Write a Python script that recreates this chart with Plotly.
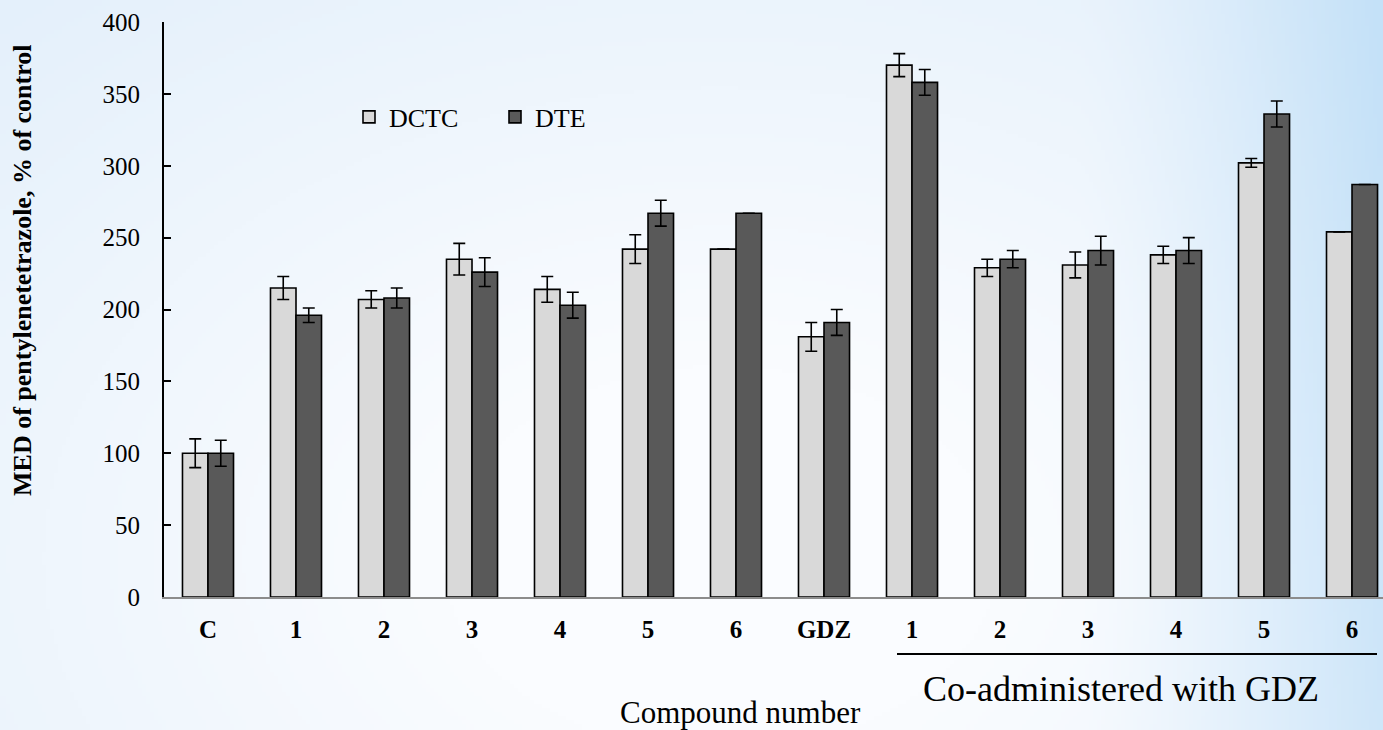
import base64
import struct
import zlib

import numpy as np
import plotly.graph_objects as go

# ---- data -------------------------------------------------------------
categories = ["C", "1", "2", "3", "4", "5", "6", "GDZ", "1", "2", "3", "4", "5", "6"]
dctc = [100, 215, 207, 235, 214, 242, 242, 181, 370, 229, 231, 238, 302, 254]
dctc_err = [10, 8, 6, 11, 9, 10, 0, 10, 8, 6, 9, 6, 3, 0]
dte = [100, 196, 208, 226, 203, 267, 267, 191, 358, 235, 241, 241, 336, 287]
dte_err = [9, 5, 7, 10, 9, 9, 0, 9, 9, 6, 10, 9, 9, 0]
y_ticks = [0, 50, 100, 150, 200, 250, 300, 350, 400]

# ---- figure geometry (pixels) -------------------------------------------
W, H = 1383, 730
ML, MR, MT, MB = 164, 0, 22, 133
PW, PH = W - ML - MR, H - MT - MB


def px(x):
    """Horizontal pixel -> paper coordinate."""
    return (x - ML) / PW


def py(y):
    """Vertical pixel (from top) -> paper coordinate."""
    return (H - MB - y) / PH


# ---- soft blue background ----------------------------------------------
def png_data_uri(rgb):
    h, w, _ = rgb.shape
    raw = b"".join(b"\x00" + rgb[i].tobytes() for i in range(h))

    def chunk(tag, data):
        return (struct.pack(">I", len(data)) + tag + data
                + struct.pack(">I", zlib.crc32(tag + data) & 0xFFFFFFFF))

    png = (b"\x89PNG\r\n\x1a\n"
           + chunk(b"IHDR", struct.pack(">IIBBBBB", w, h, 8, 2, 0, 0, 0))
           + chunk(b"IDAT", zlib.compress(raw, 9))
           + chunk(b"IEND", b""))
    return "data:image/png;base64," + base64.b64encode(png).decode()


gw, gh = 346, 183
gx = np.linspace(0, W, gw)[None, :]
gy = np.linspace(0, H, gh)[:, None]
d = np.sqrt(((gx - 720) / 800) ** 2 + ((gy - 560) / 560) ** 2)
t1 = np.clip((d - 0.35) / 1.0, 0, 1)
t2 = np.clip((gx - 1080) / 303, 0, 1) ** 1.4 * (1 - 0.25 * gy / H)
center = np.array([250, 252, 255], float)
soft = np.array([228, 240, 251], float)
edge = np.array([196, 225, 248], float)
col = center + (soft - center) * t1[..., None]
col = col + (edge - col) * t2[..., None]
bg = np.clip(col, 0, 255).astype(np.uint8)
bg_uri = png_data_uri(bg)

# ---- traces -------------------------------------------------------------
xpos = list(range(len(categories)))
serif = "Liberation Serif"

fig = go.Figure()
fig.add_trace(go.Bar(
    x=xpos, y=dctc, name="DCTC",
    marker=dict(color="#d9d9d9", line=dict(color="black", width=1.6)),
    error_y=dict(type="data", array=dctc_err, color="black", thickness=1.6, width=6),
))
fig.add_trace(go.Bar(
    x=xpos, y=dte, name="DTE",
    marker=dict(color="#595959", line=dict(color="black", width=1.6)),
    error_y=dict(type="data", array=dte_err, color="black", thickness=1.6, width=6),
))

fig.update_layout(
    width=W, height=H,
    margin=dict(l=ML, r=MR, t=MT, b=MB, pad=0),
    paper_bgcolor="white",
    plot_bgcolor="rgba(0,0,0,0)",
    barmode="group",
    bargap=0.42,
    bargroupgap=0,
    font=dict(family=serif, size=25, color="black"),
    showlegend=True,
    legend=dict(
        orientation="h", x=px(349), y=py(117), xanchor="left", yanchor="middle",
        bgcolor="rgba(0,0,0,0)", font=dict(size=26, family=serif, color="black"),
        traceorder="normal", entrywidth=101, entrywidthmode="pixels",
    ),
    images=[dict(
        source=bg_uri, xref="paper", yref="paper",
        x=px(0), y=py(0), sizex=W / PW, sizey=H / PH,
        xanchor="left", yanchor="top", sizing="stretch", layer="below",
    )],
)

fig.update_xaxes(
    range=[-0.5, 13.352],
    tickmode="array", tickvals=xpos, ticktext=categories,
    tickfont=dict(family=serif, size=25, weight="bold"),
    ticks="", ticklabelstandoff=9,
    showline=True, linecolor="#8c8c8c", linewidth=2,
    showgrid=False, zeroline=False, fixedrange=True,
)
fig.update_yaxes(
    range=[0, 400],
    tickmode="array", tickvals=y_ticks,
    tickfont=dict(family=serif, size=25),
    ticks="inside", ticklen=7, tickwidth=1.5, tickcolor="black",
    ticklabelstandoff=17,
    showline=True, linecolor="black", linewidth=2,
    showgrid=False, zeroline=False, fixedrange=True,
)

# ---- axis titles and group bracket --------------------------------------
fig.add_annotation(
    text="MED of pentylenetetrazole, % of control",
    xref="paper", yref="paper", x=px(22), y=py(270),
    xanchor="center", yanchor="middle",
    textangle=-90, showarrow=False,
    font=dict(family=serif, size=26, weight="bold"),
)
fig.add_annotation(
    text="Compound number",
    xref="paper", yref="paper", x=px(740), y=py(712),
    xanchor="center", yanchor="middle",
    showarrow=False, font=dict(family=serif, size=31),
)
fig.add_annotation(
    text="Co-administered with GDZ",
    xref="paper", yref="paper", x=px(1121), y=py(689),
    xanchor="center", yanchor="middle",
    showarrow=False, font=dict(family=serif, size=36),
)
fig.add_shape(
    type="line", xref="paper", yref="paper",
    x0=px(897), x1=px(1377), y0=py(654), y1=py(654),
    line=dict(color="black", width=2),
)

fig.write_html("out.html")
